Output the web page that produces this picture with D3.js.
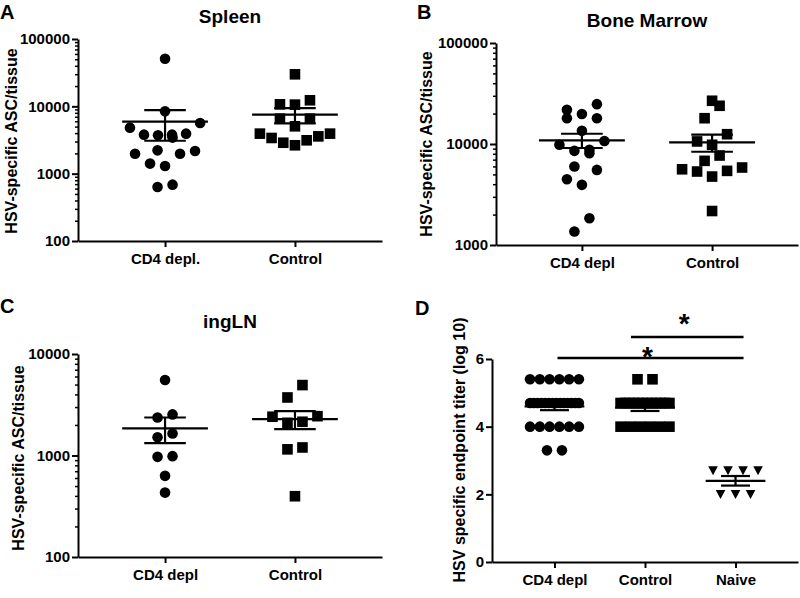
<!DOCTYPE html>
<html>
<head>
<meta charset="utf-8">
<script src="https://cdn.jsdelivr.net/npm/d3@7"></script>
<style>
  body { margin: 0; background: #fff; }
  svg { display: block; }
</style>
</head>
<body>
<div id="chart"></div>
<script>
// A - Spleen (HSV-specific ASC per tissue, log axis)
var spleenGroups = ["CD4 depl.", "Control"];
var spleenCD4 = [51000, 8430, 5660, 4820, 3800, 3710, 3930, 3430, 3800, 1980, 2220, 1980, 2170, 1410, 1300, 634, 687];
var spleenControl = [29900, 12300, 10600, 10700, 6560, 6560, 5050, 3930, 3580, 3130, 2640, 2880, 3390, 3930];
var spleenTicks = [100, 1000, 10000, 100000];

// B - Bone marrow
var marrowGroups = ["CD4 depl", "Control"];
var marrowCD4 = [24800, 21800, 19800, 18000, 18000, 13500, 10700, 9820, 8750, 8550, 8110, 5990, 5540, 4480, 3940, 1840, 1360];
var marrowControl = [26800, 23900, 18000, 12500, 10600, 9820, 7690, 6810, 5620, 5340, 5420, 5850, 4760, 2170];
var marrowTicks = [1000, 10000, 100000];

// C - inguinal LN
var lnGroups = ["CD4 depl", "Control"];
var lnCD4 = [5540, 2540, 2370, 1650, 1510, 985, 970, 630, 431];
var lnControl = [4940, 3730, 2440, 2410, 2150, 2100, 1200, 1150, 397];
var lnTicks = [100, 1000, 10000];

// D - endpoint titer (log 10)
var titerGroups = ["CD4 depl", "Control", "Naive"];
var titerCD4 = [5.4, 5.4, 5.4, 5.4, 5.4, 5.4,
                4.7, 4.7, 4.7, 4.7, 4.7, 4.7, 4.7, 4.7, 4.7, 4.7, 4.7, 4.7, 4.7, 4.7,
                4.0, 4.0, 4.0, 4.0, 4.0, 4.0,
                3.3, 3.3];
var titerControl = [5.4, 5.4,
                    4.7, 4.7, 4.7, 4.7, 4.7, 4.7, 4.7, 4.7, 4.7, 4.7, 4.7, 4.7,
                    4.0, 4.0, 4.0, 4.0, 4.0, 4.0];
var titerNaive = [2.7, 2.7, 2.7, 2.7, 2.0, 2.0, 2.0];
var titerTicks = [0, 2, 4, 6];
var titerSig = [
  { from: "Control", to: "Naive", level: 6.65, label: "*" },
  { from: "CD4 depl", to: "Naive", level: 6.03, label: "*" }
];

var font = '"Liberation Sans", Arial, Helvetica, sans-serif';

var panels = [
  { letter: "A", lx: 0, ly: 19, title: "Spleen", tx: 230, ty: 23,
    x0: 78, x1: 382, yTop: 39, yBot: 241, log: true, domain: [100, 100000],
    ticks: spleenTicks, groups: spleenGroups, series: [spleenCD4, spleenControl],
    shapes: ["circle", "square"], pad: 0.67,
    ylabel: "HSV-specific ASC/tissue", ylx: 17, yly: 141 },
  { letter: "B", lx: 417, ly: 19, title: "Bone Marrow", tx: 647, ty: 27,
    x0: 496, x1: 798, yTop: 43, yBot: 245, log: true, domain: [1000, 100000],
    ticks: marrowTicks, groups: marrowGroups, series: [marrowCD4, marrowControl],
    shapes: ["circle", "square"], pad: 0.66,
    ylabel: "HSV-specific ASC/tissue", ylx: 432, yly: 144 },
  { letter: "C", lx: 0, ly: 313, title: "ingLN", tx: 230, ty: 328,
    x0: 78, x1: 382, yTop: 354, yBot: 557, log: true, domain: [100, 10000],
    ticks: lnTicks, groups: lnGroups, series: [lnCD4, lnControl],
    shapes: ["circle", "square"], pad: 0.67,
    ylabel: "HSV-specific ASC/tissue", ylx: 24, yly: 458 },
  { letter: "D", lx: 415, ly: 315, title: null,
    x0: 492, x1: 798, yTop: 359, yBot: 562, log: false, domain: [0, 6],
    ticks: titerTicks, groups: titerGroups, series: [titerCD4, titerControl, titerNaive],
    shapes: ["circle", "square", "triangle"], pad: 0.69, sig: titerSig, starDy: [-4, 8],
    ylabel: "HSV specific endpoint titer (log 10)", ylx: 465, yly: 450 }
];

var svg = d3.select("#chart").append("svg")
  .attr("width", 800)
  .attr("height", 598)
  .style("font-family", font);

svg.append("rect").attr("width", 800).attr("height", 598).attr("fill", "#fff");

// GraphPad-like scatter spread: bin points into rows, spread each row around the center
function spread(values, y, maxWidth) {
  var rowH = 15;
  var idx = values.map(function(v, i) { return i; })
    .sort(function(a, b) { return values[a] - values[b]; });
  var off = values.map(function() { return 0; });
  var i = 0;
  while (i < idx.length) {
    var y0 = y(values[idx[i]]);
    var j = i;
    while (j < idx.length && y0 - y(values[idx[j]]) <= rowH) j++;
    var row = idx.slice(i, j), n = row.length;
    var s = n > 1 ? Math.min(15, maxWidth / (n - 1)) : 0;
    row.forEach(function(k, m) {
      var q;
      if (n % 2) {
        q = Math.ceil(m / 2);
        off[k] = m === 0 ? 0 : (m % 2 ? -q : q) * s;
      } else {
        q = Math.floor(m / 2) + 0.5;
        off[k] = (m % 2 ? q : -q) * s;
      }
    });
    i = j;
  }
  return off;
}

function drawSymbol(g, shape, cx, cy) {
  if (shape === "circle") {
    g.append("circle").attr("cx", cx).attr("cy", cy).attr("r", 5.3).attr("fill", "#000");
  } else if (shape === "square") {
    g.append("rect").attr("x", cx - 5.3).attr("y", cy - 5.3)
      .attr("width", 10.6).attr("height", 10.6).attr("fill", "#000");
  } else {
    g.append("path")
      .attr("d", "M" + (cx - 4.8) + "," + (cy - 4.3) + "L" + (cx + 4.8) + "," + (cy - 4.3) + "L" + cx + "," + (cy + 4.7) + "Z")
      .attr("fill", "#000");
  }
}

panels.forEach(function(p) {
  var g = svg.append("g");

  var y = (p.log ? d3.scaleLog() : d3.scaleLinear())
    .domain(p.domain)
    .range([p.yBot, p.yTop]);

  var x = d3.scalePoint()
    .domain(p.groups)
    .range([p.x0, p.x1])
    .padding(p.pad);

  var step = x.step();

  // panel letter and title
  g.append("text").attr("x", p.lx).attr("y", p.ly)
    .style("font-size", "20px").style("font-weight", "bold").text(p.letter);
  if (p.title) {
    g.append("text").attr("x", p.tx).attr("y", p.ty)
      .attr("text-anchor", "middle")
      .style("font-size", "19px").style("font-weight", "bold").text(p.title);
  }

  // y axis label
  g.append("text")
    .attr("transform", "translate(" + p.ylx + "," + p.yly + ") rotate(-90)")
    .attr("text-anchor", "middle")
    .style("font-size", "16px").style("font-weight", "bold")
    .text(p.ylabel);

  // minor ticks on log axes
  if (p.log) {
    var minor = [];
    p.ticks.forEach(function(t) {
      for (var k = 2; k <= 9; k++) {
        if (t * k < p.domain[1]) minor.push(t * k);
      }
    });
    var minorAxis = g.append("g")
      .attr("transform", "translate(" + p.x0 + ",0)")
      .call(d3.axisLeft(y).tickValues(minor).tickSize(3).tickFormat(""));
    minorAxis.select(".domain").remove();
    minorAxis.selectAll("line").attr("stroke-width", 1.5);
  }

  var yAxis = g.append("g")
    .attr("transform", "translate(" + p.x0 + ",0)")
    .call(d3.axisLeft(y).tickValues(p.ticks).tickSize(6).tickSizeOuter(0)
      .tickPadding(2).tickFormat(d3.format("d")));

  var xAxis = g.append("g")
    .attr("transform", "translate(0," + p.yBot + ")")
    .call(d3.axisBottom(x).tickSize(6).tickSizeOuter(0).tickPadding(6));

  [yAxis, xAxis].forEach(function(a) {
    a.select(".domain").attr("stroke-width", 2);
    a.selectAll(".tick line").attr("stroke-width", 2);
    a.selectAll("text")
      .style("font-family", font)
      .style("font-size", "15px").style("font-weight", "bold").attr("fill", "#000");
  });

  // points
  p.series.forEach(function(vals, si) {
    var cx = x(p.groups[si]);
    var off = spread(vals, y, step * 0.54);
    vals.forEach(function(v, i) {
      drawSymbol(g, p.shapes[si], cx + off[i], y(v));
    });
  });

  // mean and SEM
  p.series.forEach(function(vals, si) {
    var cx = x(p.groups[si]);
    var m = d3.mean(vals);
    var sem = d3.deviation(vals) / Math.sqrt(vals.length);
    var mw = step * 0.33, cw = step * 0.16;
    var lines = [
      [cx - mw, y(m), cx + mw, y(m)],
      [cx, y(m - sem), cx, y(m + sem)],
      [cx - cw, y(m + sem), cx + cw, y(m + sem)],
      [cx - cw, y(m - sem), cx + cw, y(m - sem)]
    ];
    lines.forEach(function(l) {
      g.append("line")
        .attr("x1", l[0]).attr("y1", l[1]).attr("x2", l[2]).attr("y2", l[3])
        .attr("stroke", "#000").attr("stroke-width", 2.2);
    });
  });

  // significance bars
  if (p.sig) {
    p.sig.forEach(function(s, si) {
      var xa = x(s.from) + (s.from === "Control" ? -14 : 3);
      var xb = x(s.to) + 8;
      var yy = y(s.level);
      g.append("line")
        .attr("x1", xa).attr("x2", xb).attr("y1", yy).attr("y2", yy)
        .attr("stroke", "#000").attr("stroke-width", 2.5);
      g.append("text")
        .attr("x", (xa + xb) / 2 - 3).attr("y", yy + p.starDy[si])
        .attr("text-anchor", "middle")
        .style("font-size", "28px").style("font-weight", "bold")
        .text(s.label);
    });
  }
});
</script>
</body>
</html>
